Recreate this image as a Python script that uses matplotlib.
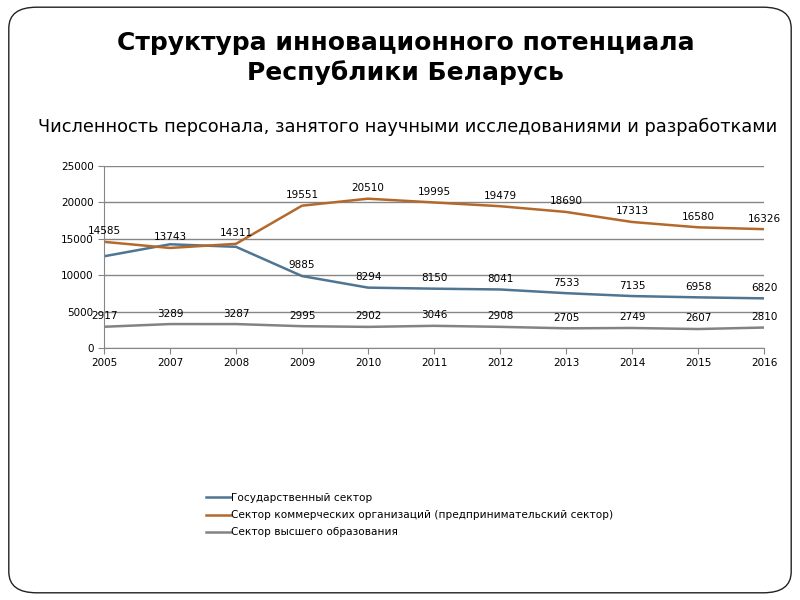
import matplotlib.pyplot as plt
from matplotlib.patches import FancyBboxPatch
import numpy as np

years = ['2005', '2007', '2008', '2009', '2010', '2011', '2012', '2013', '2014', '2015', '2016']
gov = [12600, 14250, 13900, 9885, 8294, 8150, 8041, 7533, 7135, 6958, 6820]
com = [14585, 13743, 14311, 19551, 20510, 19995, 19479, 18690, 17313, 16580, 16326]
edu = [2917, 3289, 3287, 2995, 2902, 3046, 2908, 2705, 2749, 2607, 2810]

# labels shown on the chart (gov labels hidden for first three years)
gov_lab = [None, None, None, 9885, 8294, 8150, 8041, 7533, 7135, 6958, 6820]

names = ['Государственный сектор',
         'Сектор коммерческих организаций (предпринимательский сектор)',
         'Сектор высшего образования']
colors = ['#4f7592', '#b4692c', '#838383']

plt.rcParams['font.family'] = 'DejaVu Sans'
fig = plt.figure(figsize=(8, 6), dpi=100)

# slide frame
frame = FancyBboxPatch((0.011, 0.012), 0.978, 0.976, boxstyle='round,pad=0,rounding_size=0.035',
                       transform=fig.transFigure, fill=False, edgecolor='#222222', lw=1.0)
fig.patches.append(frame)

fig.text(0.507, 0.903, 'Структура инновационного потенциала\nРеспублики Беларусь',
         ha='center', va='center', fontsize=18, fontweight='bold', linespacing=1.28)
fig.text(0.509, 0.788, 'Численность персонала, занятого научными исследованиями и разработками',
         ha='center', va='center', fontsize=12.8)

ax = fig.add_axes([0.13, 0.42, 0.825, 0.3033])
x = np.arange(len(years))
series = [gov, com, edu]
for vals, name, c in zip(series, names, colors):
    ax.plot(x, vals, color=c, lw=1.8, label=name)

for labs in [gov_lab, com, edu]:
    for xi, v in zip(x, labs):
        if v is None:
            continue
        ax.annotate(str(v), (xi, v), xytext=(0, 4), textcoords='offset points',
                    ha='center', va='bottom', fontsize=7.5)

ax.set_xlim(0, len(years) - 1)
ax.set_ylim(0, 25000)
ax.set_yticks(np.arange(0, 25001, 5000))
ax.set_xticks(x)
ax.set_xticklabels(years)
ax.tick_params(axis='both', labelsize=7.5, color='#868686', length=4)
ax.yaxis.grid(True, color='#868686', lw=1)
ax.set_axisbelow(True)
for s in ['top', 'right']:
    ax.spines[s].set_visible(False)
ax.spines['left'].set_color('#868686')
ax.spines['bottom'].set_color('#868686')

fig.legend(loc='upper left', bbox_to_anchor=(0.245, 0.194), frameon=False, fontsize=7.6,
           handlelength=2.4, handletextpad=0.05, labelspacing=0.68)

fig.savefig('out.png', dpi=100)
